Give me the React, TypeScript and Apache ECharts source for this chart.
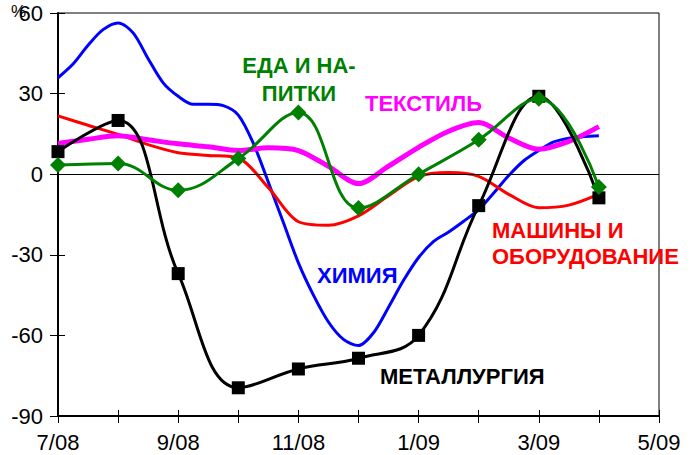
import React, { useEffect, useRef } from 'react';
import * as echarts from 'echarts';

// X tick labels (every two months, starting 7/08 at index 0)
const tickLabels = ['7/08', '9/08', '11/08', '1/09', '3/09', '5/09'];
// Monthly categories for the marker series
const months = ['7/08', '8/08', '9/08', '10/08', '11/08', '12/08', '1/09', '2/09', '3/09', '4/09'];

// МЕТАЛЛУРГИЯ (monthly, squares)
const metallurgy = [8.4, 20, -37, -79.5, -72.5, -68.5, -60, -11.7, 29, -8.8];
// ЕДА И НАПИТКИ (monthly, diamonds)
const food = [3.4, 4, -6, 5.8, 23, -12.6, 0, 12.8, 28.1, -4.8];

// ХИМИЯ (read every quarter month)
const chemistryStep = 0.25;
const chemistry = [
  35.9, 41, 48, 53.8, 56.3, 52.6, 43, 34, 29, 26, 26, 25.5, 22,
  11.5, -3, -18, -33, -45, -55, -61.5, -63.8, -59, -49.5, -39.5,
  -31, -25, -21.5, -17.5, -13.2, -7, -0.5, 5, 8.8, 12, 13.4, 14, 14.3,
];

// МАШИНЫ И ОБОРУДОВАНИЕ and ТЕКСТИЛЬ (read every half month)
const halfStep = 0.5;
const machinery = [
  21.7, 18.2, 14.8, 11, 8, 7, 6, -5, -17.7, -19, -15.5, -8, -0.9, 0.6, -0.8,
  -7.5, -12.5, -11.5, -7.4,
];
const textile = [
  11.4, 13, 14.3, 12.8, 11.3, 10.2, 8.8, 9.8, 8.8, 2.9, -3.5, 3, 10, 16, 19.2,
  13.5, 9.3, 12.2, 17.7,
];

const FONT = '"Liberation Sans", Arial, Helvetica, sans-serif';

export default function App() {
  const ref = useRef<HTMLDivElement>(null);

  useEffect(() => {
    if (!ref.current) return;
    const chart = echarts.init(ref.current, undefined, { renderer: 'svg' });

    const axisLabelStyle = { color: '#000', fontFamily: FONT, fontSize: 22 };
    const gridLeft = 58;
    const gridTop = 13;
    const gridRight = 693 - 659;
    const gridBottom = 455 - 416;

    const textEl = (text: string, x: number, y: number, color: string, align: string) => ({
      type: 'text',
      x,
      y,
      silent: true,
      style: {
        text,
        fill: color,
        font: `bold 22px ${FONT}`,
        align,
        verticalAlign: 'middle',
        textAlign: align,
        textVerticalAlign: 'middle',
      },
    });

    chart.setOption({
      animation: false,
      backgroundColor: '#fff',
      grid: {
        left: gridLeft,
        top: gridTop,
        right: gridRight,
        bottom: gridBottom,
        show: true,
        borderColor: '#000',
        borderWidth: 1,
        backgroundColor: 'transparent',
        containLabel: false,
        outerBoundsMode: 'none',
      },
      xAxis: [
        {
          type: 'value',
          min: 0,
          max: 10,
          interval: 1,
          position: 'bottom',
          axisLine: { show: true, onZero: false, lineStyle: { color: '#000', width: 2 } },
          axisTick: { show: true, inside: false, length: 7, lineStyle: { color: '#000', width: 1 } },
          axisLabel: {
            ...axisLabelStyle,
            margin: 15,
            formatter: (v: number) => (Math.round(v) % 2 === 0 ? tickLabels[Math.round(v) / 2] : ''),
          },
          splitLine: { show: false },
        },
        {
          type: 'value',
          min: 0,
          max: 10,
          interval: 1,
          position: 'bottom',
          axisLine: { show: false, onZero: false },
          axisTick: { show: true, inside: true, length: 6, lineStyle: { color: '#000', width: 1 } },
          axisLabel: { show: false },
          splitLine: { show: false },
        },
      ],
      yAxis: [
        {
          type: 'value',
          min: -90,
          max: 60,
          interval: 30,
          position: 'left',
          axisLine: { show: true, onZero: false, lineStyle: { color: '#000', width: 2 } },
          axisTick: { show: true, inside: false, length: 8, lineStyle: { color: '#000', width: 1 } },
          axisLabel: { ...axisLabelStyle, margin: 15 },
          splitLine: { show: false },
        },
        {
          type: 'value',
          min: -90,
          max: 60,
          interval: 30,
          position: 'left',
          axisLine: { show: false, onZero: false },
          axisTick: { show: true, inside: true, length: 7, lineStyle: { color: '#000', width: 1 } },
          axisLabel: { show: false },
          splitLine: { show: false },
        },
      ],
      series: [
        {
          name: 'ХИМИЯ',
          type: 'line',
          data: chemistry.map((v, i) => [i * chemistryStep, v]),
          smooth: 0.3,
          showSymbol: false,
          lineStyle: { color: '#0000ff', width: 3 },
          itemStyle: { color: '#0000ff' },
          markLine: {
            silent: true,
            symbol: 'none',
            label: { show: false },
            lineStyle: { color: '#000', width: 1, type: 'solid' },
            data: [{ yAxis: 0 }],
          },
          z: 2,
        },
        {
          name: 'МАШИНЫ И ОБОРУДОВАНИЕ',
          type: 'line',
          data: machinery.map((v, i) => [i * halfStep, v]),
          smooth: 0.3,
          showSymbol: false,
          lineStyle: { color: '#ff0000', width: 3 },
          itemStyle: { color: '#ff0000' },
          z: 3,
        },
        {
          name: 'ТЕКСТИЛЬ',
          type: 'line',
          data: textile.map((v, i) => [i * halfStep, v]),
          smooth: 0.3,
          showSymbol: false,
          lineStyle: { color: '#ff00ff', width: 5 },
          itemStyle: { color: '#ff00ff' },
          z: 4,
        },
        {
          name: 'МЕТАЛЛУРГИЯ',
          type: 'line',
          data: metallurgy.map((v, i) => [months.indexOf(months[i]), v]),
          smooth: 0.4,
          symbol: 'rect',
          symbolSize: 13,
          showSymbol: true,
          lineStyle: { color: '#000', width: 3 },
          itemStyle: { color: '#000' },
          z: 5,
        },
        {
          name: 'ЕДА И НАПИТКИ',
          type: 'line',
          data: food.map((v, i) => [i, v]),
          smooth: 0.4,
          symbol: 'diamond',
          symbolSize: 16,
          showSymbol: true,
          lineStyle: { color: '#008000', width: 3 },
          itemStyle: { color: '#008000' },
          z: 6,
        },
      ],
      graphic: [
        {
          type: 'text',
          x: 11,
          y: 11,
          silent: true,
          style: {
            text: '%',
            fill: '#000',
            font: `17px ${FONT}`,
            align: 'left',
            verticalAlign: 'middle',
          },
        },
        textEl('ЕДА И НА-', 299, 65, '#008000', 'center'),
        textEl('ПИТКИ', 299, 93, '#008000', 'center'),
        textEl('ТЕКСТИЛЬ', 365, 103, '#ff00ff', 'left'),
        textEl('МАШИНЫ И', 492, 230, '#ff0000', 'left'),
        textEl('ОБОРУДОВАНИЕ', 492, 256, '#ff0000', 'left'),
        textEl('ХИМИЯ', 317, 275, '#0000ff', 'left'),
        textEl('МЕТАЛЛУРГИЯ', 380, 376, '#000', 'left'),
      ],
    });

    return () => chart.dispose();
  }, []);

  return (
    <div
      ref={ref}
      style={{ position: 'absolute', left: 0, top: 0, width: 693, height: 455 }}
    />
  );
}
